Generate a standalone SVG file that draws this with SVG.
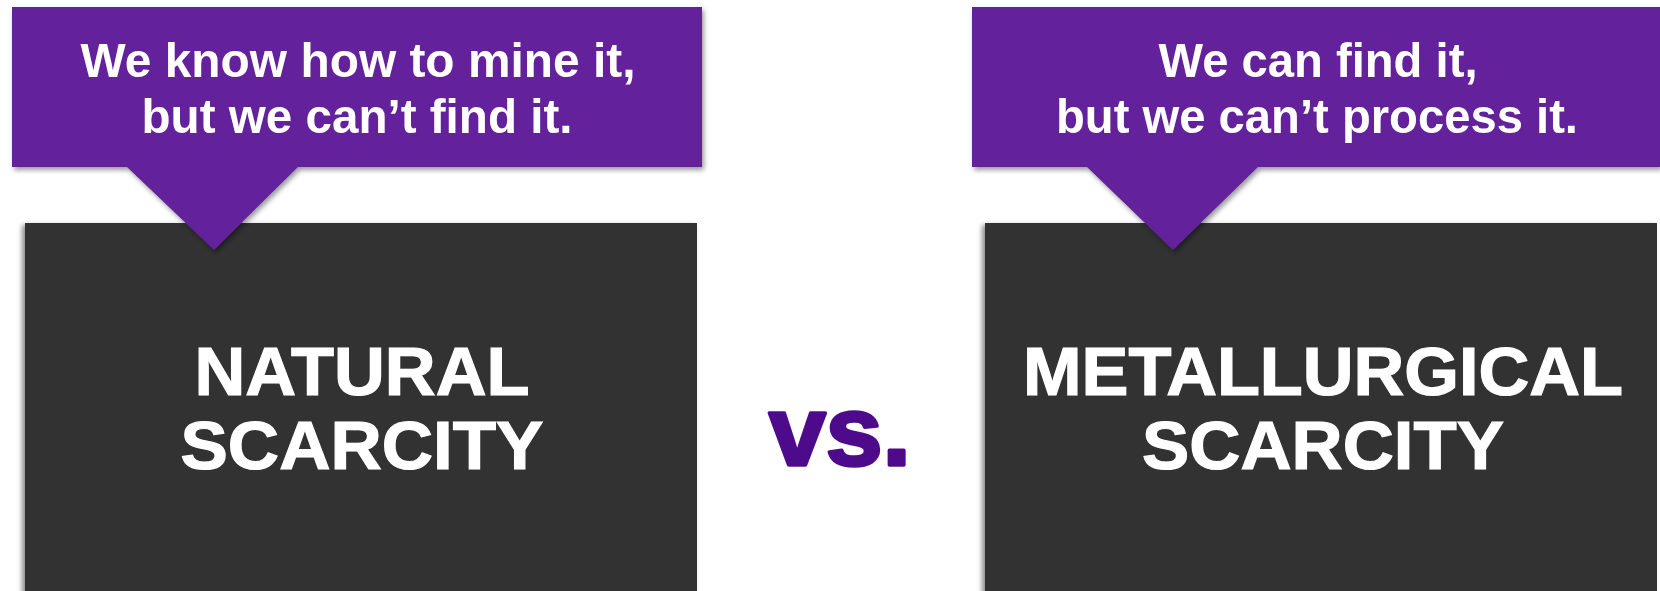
<svg xmlns="http://www.w3.org/2000/svg" width="1660" height="591" viewBox="0 0 1660 591">
  <style>
    .dark { fill: #333333; filter: url(#shDark); }
    .callout { fill: #63219B; filter: url(#shPurple); }
    .ctext { font-family: "Liberation Sans", Arial, sans-serif; font-weight: bold; font-size: 49px; fill: #ffffff; text-anchor: middle; }
    .big { font-family: "Liberation Sans", Arial, sans-serif; font-weight: bold; font-size: 68px; fill: #ffffff; stroke: #ffffff; stroke-width: 1.2; text-anchor: middle; }
    .vs { font-family: "Liberation Sans", Arial, sans-serif; font-weight: bold; font-size: 98px; fill: #4D0A8A; stroke: #4D0A8A; stroke-width: 3.5; stroke-linejoin: round; }
  </style>
  <defs>
    <filter id="shDark" x="-5%" y="-5%" width="110%" height="110%">
      <feDropShadow dx="-3" dy="2" stdDeviation="2.5" flood-color="#000000" flood-opacity="0.45"/>
    </filter>
    <filter id="shPurple" x="-5%" y="-5%" width="110%" height="120%">
      <feDropShadow dx="2" dy="3" stdDeviation="2.5" flood-color="#000000" flood-opacity="0.4"/>
    </filter>
  </defs>
  <rect width="1660" height="591" fill="#ffffff"/>

  <g id="natural-scarcity">
    <rect class="dark" x="25" y="223" width="672" height="380"/>
    <text class="big" x="362" y="395" textLength="335" lengthAdjust="spacingAndGlyphs">NATURAL</text>
    <text class="big" x="362" y="469" textLength="363" lengthAdjust="spacingAndGlyphs">SCARCITY</text>
  </g>

  <g id="metallurgical-scarcity">
    <rect class="dark" x="985" y="223" width="672" height="380"/>
    <text class="big" x="1323" y="395" textLength="600" lengthAdjust="spacingAndGlyphs">METALLURGICAL</text>
    <text class="big" x="1323" y="469" textLength="362" lengthAdjust="spacingAndGlyphs">SCARCITY</text>
  </g>

  <g id="callout-natural">
    <path class="callout" d="M12,7 H702 V167 H298 L214,250 L127,167 H12 Z"/>
    <text class="ctext" x="358" y="77" textLength="555" lengthAdjust="spacingAndGlyphs">We know how to mine it,</text>
    <text class="ctext" x="357" y="133" textLength="431" lengthAdjust="spacingAndGlyphs">but we can’t find it.</text>
  </g>

  <g id="callout-metallurgical">
    <path class="callout" d="M972,7 H1660 V167 H1258 L1173,250 L1087,167 H972 Z"/>
    <text class="ctext" x="1318" y="77" textLength="319" lengthAdjust="spacingAndGlyphs">We can find it,</text>
    <text class="ctext" x="1317" y="133" textLength="522" lengthAdjust="spacingAndGlyphs">but we can’t process it.</text>
  </g>

  <g id="vs">
    <text class="vs" x="769" y="465" textLength="142" lengthAdjust="spacingAndGlyphs">vs.</text>
  </g>

  <g id="connectors"></g>
</svg>
